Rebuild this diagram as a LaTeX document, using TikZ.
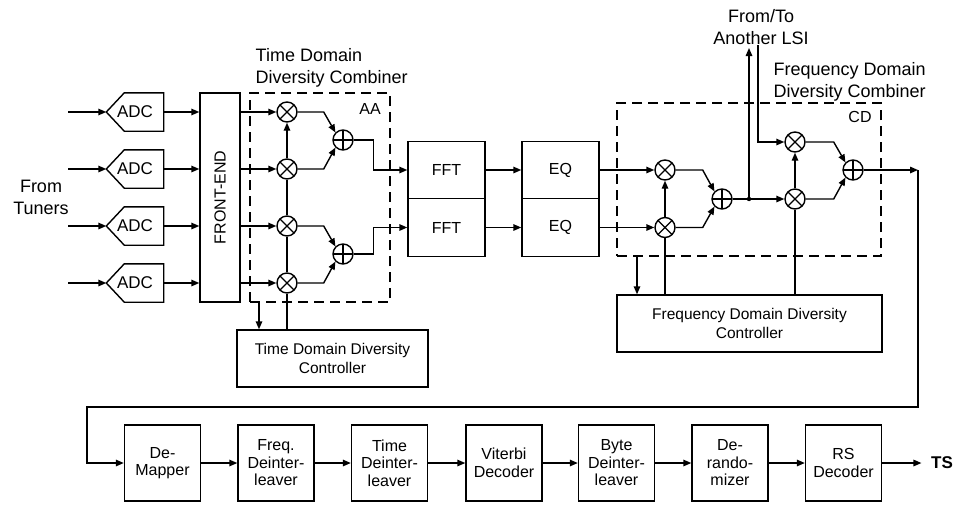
\documentclass[tikz,border=0pt]{standalone}
\usepackage{fontspec}
\setmainfont{Liberation Sans}
\usepackage{graphicx}
\usetikzlibrary{shapes,arrows.meta,positioning,calc}

\begin{document}
\begin{tikzpicture}[x=1pt, y=1pt, line width=1.4pt,
    >={Triangle[length=8pt,width=6.5pt]},
    blk/.style={draw, fill=white, align=center, inner sep=0pt, font=\fontsize{16}{17.5}\selectfont},
    ctl/.style={draw, fill=white, align=center, inner sep=0pt, minimum height=57pt, font=\fontsize{15.5}{19}\selectfont},
    adc/.style={minimum width=56pt, minimum height=37pt, inner sep=0pt, font=\fontsize{17}{18}\selectfont,
        append after command={\pgfextra{\draw (\tikzlastnode.north east) -- (\tikzlastnode.south east)
            -- ([xshift=18pt]\tikzlastnode.south west) -- (\tikzlastnode.west)
            -- ([xshift=18pt]\tikzlastnode.north west) -- cycle;}}},
    mult/.style={circle, draw, fill=white, minimum size=20pt, inner sep=0pt,
        path picture={\draw[line width=1.2pt] (path picture bounding box.north west) -- (path picture bounding box.south east)
            (path picture bounding box.north east) -- (path picture bounding box.south west);}},
    adder/.style={circle, draw, fill=white, minimum size=20pt, inner sep=0pt,
        path picture={\draw[line width=1.2pt] (path picture bounding box.north) -- (path picture bounding box.south)
            (path picture bounding box.west) -- (path picture bounding box.east);}},
    grp/.style={draw, dash pattern=on 10pt off 6pt, inner sep=0pt},
    lbl/.style={align=left, inner sep=0pt, font=\fontsize{18}{22}\selectfont},
    tag/.style={inner sep=0pt, font=\fontsize{16}{18}\selectfont}]
    \useasboundingbox (0,0) rectangle (960,-504);

    % inputs and ADCs
    \node[lbl, align=center] (tuners) at (41,-197) {From\\Tuners};
    \node[adc] (adc1) at (135,-112) {ADC};
    \node[adc] (adc2) at (135,-169) {ADC};
    \node[adc] (adc3) at (135,-226) {ADC};
    \node[adc] (adc4) at (135,-283) {ADC};
    \coordinate (in1) at (68,-112);
    \coordinate (in2) at (68,-169);
    \coordinate (in3) at (68,-226);
    \coordinate (in4) at (68,-283);
    \node[blk, minimum width=40pt, minimum height=209pt] (fe) at (220,-197.5) {\rotatebox{90}{FRONT-END}};

    % time domain combiner
    \node[grp, minimum width=140pt, minimum height=209pt] (tdg) at (320,-197.5) {};
    \node[tag] (aa) at (370,-109) {AA};
    \node[lbl, anchor=west] (tdlbl) at (255,-68) {Time Domain\\Diversity Combiner};
    \node[mult] (m1) at (287,-112) {};
    \node[mult] (m2) at (287,-169) {};
    \node[mult] (m3) at (287,-226) {};
    \node[mult] (m4) at (287,-283) {};
    \node[adder] (a1) at (343,-140) {};
    \node[adder] (a2) at (343,-254) {};
    \node[ctl, minimum width=191pt] (tdc) at (332.5,-358.5) {Time Domain Diversity\\Controller};
    \coordinate (tdtap) at (259,-302);

    % FFT and EQ
    \node[blk, minimum width=77pt, minimum height=57.5pt] (fft1) at (446.5,-170) {FFT};
    \node[blk, minimum width=77pt, minimum height=57.5pt] (fft2) at (446.5,-227.5) {FFT};
    \node[blk, minimum width=77pt, minimum height=57.5pt] (eq1) at (560.5,-170) {EQ};
    \node[blk, minimum width=77pt, minimum height=57.5pt] (eq2) at (560.5,-227.5) {EQ};

    % frequency domain combiner
    \node[grp, minimum width=264pt, minimum height=153pt] (fdg) at (749,-179.5) {};
    \node[tag] (cd) at (860,-117) {CD};
    \node[lbl, anchor=west] (fdlbl) at (773,-82) {Frequency Domain\\Diversity Combiner};
    \node[lbl, align=center] (lsi) at (761,-27) {From/To\\Another LSI};
    \node[mult] (f1) at (665,-170) {};
    \node[mult] (f2) at (665,-227.5) {};
    \node[adder] (fa1) at (722,-199) {};
    \node[mult] (f3) at (795,-142) {};
    \node[mult] (f4) at (795,-199) {};
    \node[adder] (fa2) at (853,-170) {};
    \coordinate (jn) at (749,-199);
    \coordinate (lsiout) at (749,-48);
    \coordinate (lsiin) at (758,-45);
    \coordinate (ret) at (918,-170);
    \coordinate (loop) at (87,-407);
    \node[ctl, minimum width=265pt] (fdc) at (749.5,-323.5) {Frequency Domain Diversity\\Controller};
    \coordinate (fdtap) at (637,-256);

    % back end
    \node[blk, minimum width=76pt, minimum height=76pt] (dm) at (162.5,-463) {De-\\Mapper};
    \node[blk, minimum width=76pt, minimum height=76pt] (fdi) at (276,-463) {Freq.\\Deinter-\\leaver};
    \node[blk, minimum width=76pt, minimum height=76pt] (tdi) at (389.5,-463) {Time\\Deinter-\\leaver};
    \node[blk, minimum width=76pt, minimum height=76pt] (vit) at (504,-463) {Viterbi\\Decoder};
    \node[blk, minimum width=76pt, minimum height=76pt] (bdi) at (616.5,-463) {Byte\\Deinter-\\leaver};
    \node[blk, minimum width=76pt, minimum height=76pt] (drnd) at (730,-463) {De-\\rando-\\mizer};
    \node[blk, minimum width=76pt, minimum height=76pt] (rs) at (843.5,-463) {RS\\Decoder};
    \node[tag, font=\fontsize{17}{19}\selectfont\bfseries] (ts) at (942,-463) {TS};

    % connections, front part
    \draw[->] (in1) -- (adc1.west);
    \draw[->] (in2) -- (adc2.west);
    \draw[->] (in3) -- (adc3.west);
    \draw[->] (in4) -- (adc4.west);
    \draw[->] (adc1.east) -- (adc1.east -| fe.west);
    \draw[->] (adc2.east) -- (adc2.east -| fe.west);
    \draw[->] (adc3.east) -- (adc3.east -| fe.west);
    \draw[->] (adc4.east) -- (adc4.east -| fe.west);
    \draw[->] (fe.east |- m1) -- (m1);
    \draw[->] (fe.east |- m2) -- (m2);
    \draw[->] (fe.east |- m3) -- (m3);
    \draw[->] (fe.east |- m4) -- (m4);
    \draw (m4 |- tdc.north) -- (m4);
    \draw (m4) -- (m3);
    \draw (m3) -- (m2);
    \draw[->] (m2) -- (m1);
    \draw[->] (tdtap) -- (tdtap |- tdc.north);
    \draw[->] (m1.east) -- ++(26,0) -- (a1.north west);
    \draw[->] (m2.east) -- ++(26,0) -- (a1.south west);
    \draw[->] (m3.east) -- ++(26,0) -- (a2.north west);
    \draw[->] (m4.east) -- ++(26,0) -- (a2.south west);
    \draw[->] (a1.east) -- ++(20,0) |- (fft1.west);
    \draw[->] (a2.east) -- ++(20,0) |- (fft2.west);
    \draw[->] (fft1) -- (eq1);
    \draw[->] (fft2) -- (eq2);

    % connections, frequency domain
    \draw[->] (eq1) -- (f1);
    \draw[->] (eq2) -- (f2);
    \draw (f2 |- fdc.north) -- (f2);
    \draw[->] (f2) -- (f1);
    \draw (f4 |- fdc.north) -- (f4);
    \draw[->] (f4) -- (f3);
    \draw[->] (fdtap) -- (fdtap |- fdc.north);
    \draw[->] (f1.east) -- ++(27,0) -- (fa1.north west);
    \draw[->] (f2.east) -- ++(27,0) -- (fa1.south west);
    \draw[->] (fa1) -- (f4);
    \fill (jn) circle (2.2pt);
    \draw[->] (jn) -- (lsiout);
    \draw[->] (lsiin) |- (f3.west);
    \draw[->] (f3.east) -- ++(28,0) -- (fa2.north west);
    \draw[->] (f4.east) -- ++(28,0) -- (fa2.south west);
    \draw[->] (fa2) -- (ret);
    \draw[->] (ret) |- (loop) |- (dm.west);

    % back end chain
    \draw[->] (dm) -- (fdi);
    \draw[->] (fdi) -- (tdi);
    \draw[->] (tdi) -- (vit);
    \draw[->] (vit) -- (bdi);
    \draw[->] (bdi) -- (drnd);
    \draw[->] (drnd) -- (rs);
    \draw[->, shorten >=9pt] (rs) -- (ts);
\end{tikzpicture}
\end{document}
